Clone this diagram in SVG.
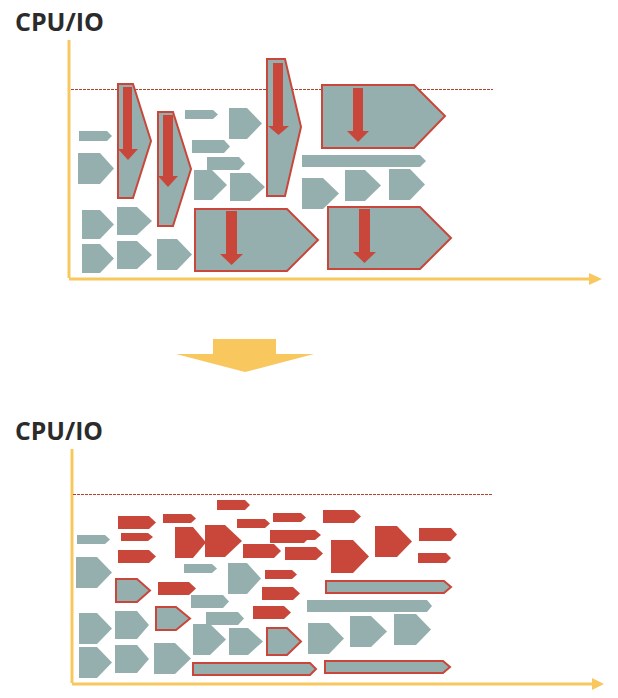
<svg xmlns="http://www.w3.org/2000/svg" width="618" height="698" viewBox="0 0 618 698">
<style>
.t{font-family:"Open Sans","Liberation Sans",sans-serif;font-weight:bold;font-size:25px;fill:#2b2b2b}
.ax{stroke:#f8c85e;stroke-width:3;fill:none}
.ah{fill:#f8c85e}
.dl{stroke:#b8402f;stroke-width:1;stroke-dasharray:3,1;fill:none}
.g{fill:#95afaf}
.r{fill:#c8473a}
.o{fill:#95afaf;stroke:#c8473a;stroke-width:2}
</style>
<rect width="618" height="698" fill="#ffffff"/>

<g id="top-chart">
<text class="t" x="15" y="31" textLength="89" lengthAdjust="spacingAndGlyphs">CPU/IO</text>
<g id="top-axes">
<line class="ax" x1="69" y1="40" x2="69" y2="278"/>
<line class="ax" x1="69" y1="279" x2="591" y2="279"/>
<polygon class="ah" points="589,273 602,279 589,285"/>
<line class="dl" x1="71" y1="89.5" x2="493" y2="89.5"/>
</g>
<g id="top-tasks">
<polygon class="g" points="79,131 107,131 112,136 107,141 79,141"/>
<polygon class="g" points="78,153 100,153 114,168.5 100,184 78,184"/>
<polygon class="g" points="185,110 213,110 218,114.5 213,119 185,119"/>
<polygon class="g" points="229,108 247,108 262,123.5 247,139 229,139"/>
<polygon class="g" points="192,140 224,140 230,146.5 224,153 192,153"/>
<polygon class="g" points="207,157 239,157 245,163.5 239,170 207,170"/>
<polygon class="g" points="194,170 212,170 227,185 212,200 194,200"/>
<polygon class="g" points="230,173 250,173 265,187 250,201 230,201"/>
<polygon class="g" points="302,155 420,155 426,161 420,167 302,167"/>
<polygon class="g" points="302,178 323,178 339,193.5 323,209 302,209"/>
<polygon class="g" points="345,170 365,170 381,185.5 365,201 345,201"/>
<polygon class="g" points="389,169 410,169 425,184.5 410,200 389,200"/>
<polygon class="g" points="82,210 100,210 114,224.5 100,239 82,239"/>
<polygon class="g" points="117,207 137,207 152,221 137,235 117,235"/>
<polygon class="g" points="82,244 100,244 114,258.5 100,273 82,273"/>
<polygon class="g" points="117,241 137,241 152,255 137,269 117,269"/>
<polygon class="g" points="157,239 177,239 192,254.5 177,270 157,270"/>
</g>
<g id="top-big-tasks">
<polygon class="o" points="118,84 133,84 151,141 133,198 118,198"/>
<rect class="r" x="123" y="87" width="9" height="62"/>
<polygon class="r" points="118,149 138,149 128,160"/>

<polygon class="o" points="158,112 173,112 191,169 173,226 158,226"/>
<rect class="r" x="163" y="115" width="10" height="61"/>
<polygon class="r" points="158,176 178,176 168,187"/>

<polygon class="o" points="267,59 285,59 301,127 285,196 267,196"/>
<rect class="r" x="273" y="63" width="10" height="63"/>
<polygon class="r" points="268,126 289,126 278.5,135"/>

<polygon class="o" points="195,209 287,209 318,240 287,271 195,271"/>
<rect class="r" x="226" y="211" width="11" height="43"/>
<polygon class="r" points="220,254 243,254 231.5,265"/>

<polygon class="o" points="322,85 414,85 445,116 414,148 322,148"/>
<rect class="r" x="353" y="88" width="10" height="43"/>
<polygon class="r" points="347,131 369,131 358,142"/>

<polygon class="o" points="328,207 420,207 451,238 420,269 328,269"/>
<rect class="r" x="359" y="209" width="11" height="43"/>
<polygon class="r" points="353,252 376,252 364.5,263"/>
</g>
</g>

<g id="transition-arrow">
<polygon class="ah" points="213,339 276,339 276,354 314,354 245,372 176,354 213,354"/>
</g>

<g id="bottom-chart">
<text class="t" x="15" y="440" textLength="88" lengthAdjust="spacingAndGlyphs">CPU/IO</text>
<g id="bottom-axes">
<line class="ax" x1="72" y1="449" x2="72" y2="683"/>
<line class="ax" x1="72" y1="684" x2="594" y2="684"/>
<polygon class="ah" points="592,678 604,684 592,690"/>
<line class="dl" x1="73" y1="494.5" x2="493" y2="494.5"/>
</g>
<g id="bottom-red-tasks">
<polygon class="r" points="118,516 149,516 156,522.5 149,529 118,529"/>
<polygon class="r" points="121,533 148,533 153,537 148,541 121,541"/>
<polygon class="r" points="118,550 149,550 156,556.5 149,563 118,563"/>
<polygon class="r" points="163,514 191,514 196,518.5 191,523 163,523"/>
<polygon class="r" points="175,527 193,527 206,542.5 193,558 175,558"/>
<polygon class="r" points="205,525 225,525 242,541 225,557 205,557"/>
<polygon class="r" points="217,500 245,500 250,505 245,510 217,510"/>
<polygon class="r" points="237,519 265,519 270,523.5 265,528 237,528"/>
<polygon class="r" points="243,544 274,544 281,551 274,558 243,558"/>
<polygon class="r" points="273,513 301,513 306,517.5 301,522 273,522"/>
<polygon class="r" points="270,530 315,530 321,535 315,540 270,540"/>
<polygon class="r" points="270,531 304,531 310,537 304,543 270,543"/>
<polygon class="r" points="285,547 316,547 323,553.5 316,560 285,560"/>
<polygon class="r" points="323,510 354,510 361,516.5 354,523 323,523"/>
<polygon class="r" points="331,540 353,540 369,556.5 353,573 331,573"/>
<polygon class="r" points="375,526 397,526 412,541.5 397,557 375,557"/>
<polygon class="r" points="419,528 451,528 457,534.5 451,541 419,541"/>
<polygon class="r" points="418,553 446,553 451,558 446,563 418,563"/>
<polygon class="r" points="158,582 189,582 196,588.5 189,595 158,595"/>
<polygon class="r" points="265,570 292,570 297,574.5 292,579 265,579"/>
<polygon class="r" points="262,587 293,587 300,593.5 293,600 262,600"/>
<polygon class="r" points="253,606 284,606 291,612.5 284,619 253,619"/>
</g>
<g id="bottom-grey-tasks">
<polygon class="g" points="77,535 105,535 110,539.5 105,544 77,544"/>
<polygon class="g" points="76,557 97,557 112,572.5 97,588 76,588"/>
<polygon class="g" points="184,564 212,564 217,568.5 212,573 184,573"/>
<polygon class="g" points="228,563 247,563 261,578.5 247,594 228,594"/>
<polygon class="g" points="191,595 223,595 229,601.5 223,608 191,608"/>
<polygon class="g" points="206,612 238,612 244,618.5 238,625 206,625"/>
<polygon class="g" points="79,613 97,613 112,628.5 97,644 79,644"/>
<polygon class="g" points="115,611 137,611 149,625 137,639 115,639"/>
<polygon class="g" points="79,647 97,647 112,662.5 97,678 79,678"/>
<polygon class="g" points="115,645 137,645 149,659 137,673 115,673"/>
<polygon class="g" points="154,643 175,643 191,658.5 175,674 154,674"/>
<polygon class="g" points="193,624 210,624 226,639.5 210,655 193,655"/>
<polygon class="g" points="229,628 248,628 263,641.5 248,655 229,655"/>
<polygon class="g" points="307,600 427,600 432,606 427,612 307,612"/>
<polygon class="g" points="308,623 329,623 344,638.5 329,654 308,654"/>
<polygon class="g" points="350,616 371,616 387,631.5 371,647 350,647"/>
<polygon class="g" points="394,614 416,614 431,629.5 416,645 394,645"/>
</g>
<g id="bottom-outlined-tasks">
<polygon class="o" points="116,579 137,579 150,590.5 137,602 116,602"/>
<polygon class="o" points="156,607 176,607 190,618.5 176,630 156,630"/>
<polygon class="o" points="267,628 287,628 301,641.5 287,655 267,655"/>
<polygon class="o" points="193,663 310,663 316,669 310,675 193,675"/>
<polygon class="o" points="325,661 443,661 450,667 443,673 325,673"/>
<polygon class="o" points="326,581 444,581 451,587 444,593 326,593"/>
</g>
</g>
</svg>
